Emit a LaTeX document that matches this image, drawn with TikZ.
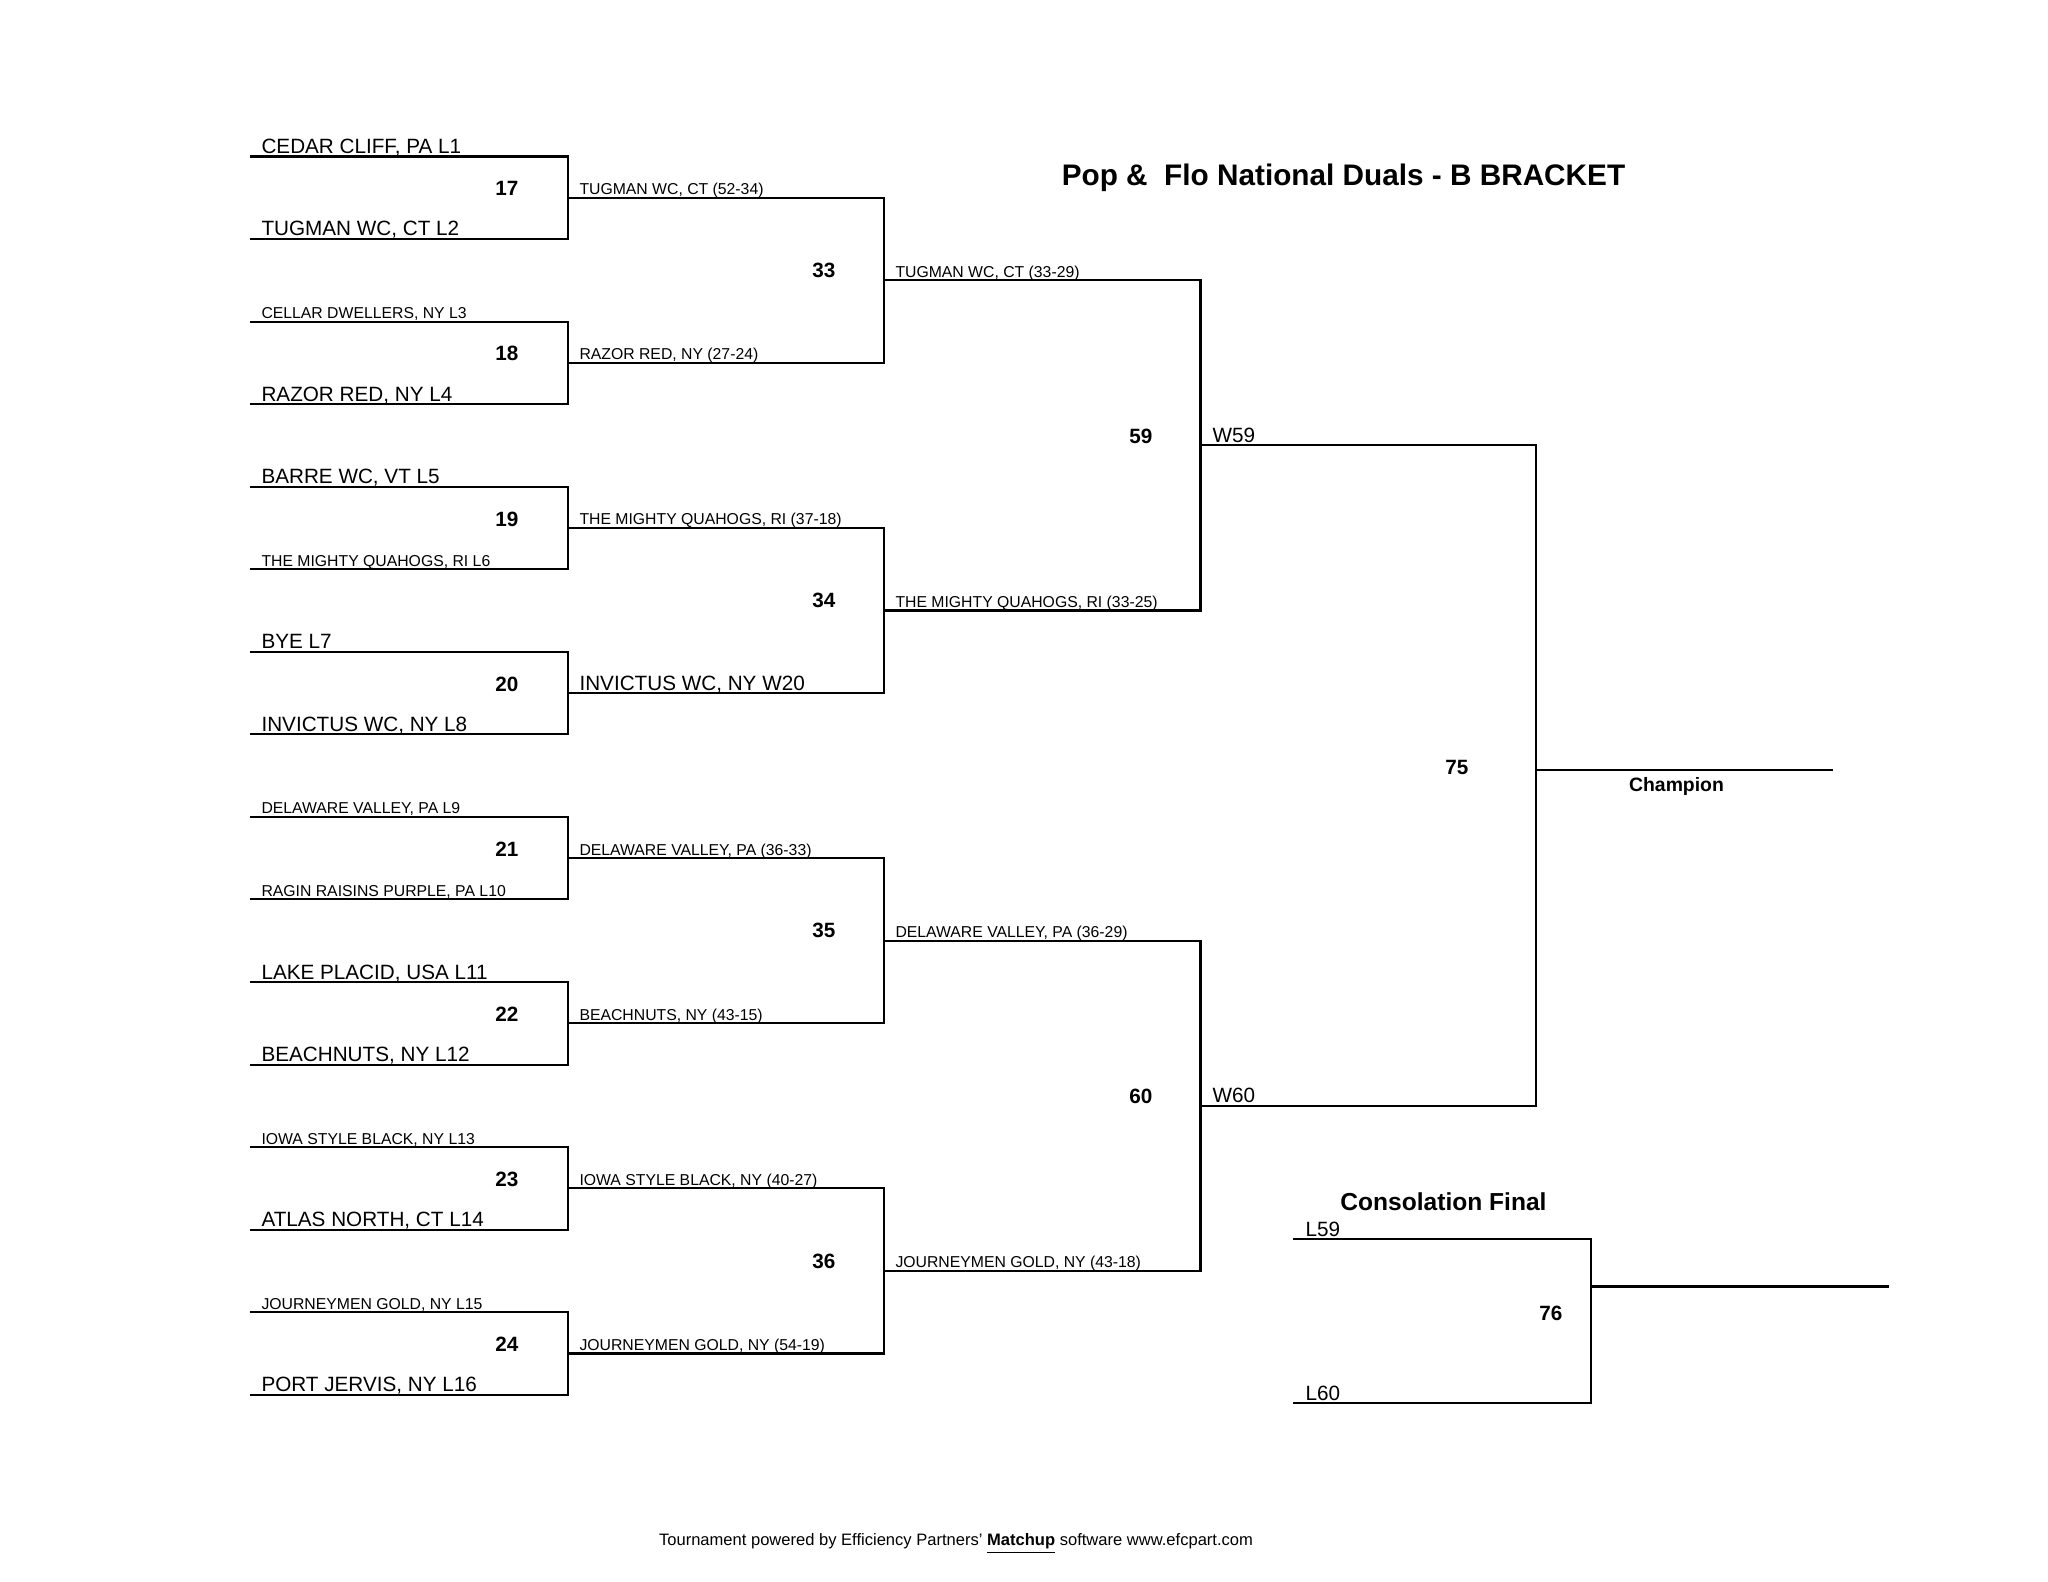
\documentclass[tikz,border=0pt]{standalone}
\usepackage{fontspec}
\setmainfont{Liberation Sans}

\begin{document}
\begin{tikzpicture}[
  x=0.38672pt,y=-0.38672pt,
  line join=miter,
  bracket/.style={draw=black,line width=.8pt},
  team/.style={font=\fontsize{8}{9.6}\selectfont,anchor=base west,inner sep=0pt},
  teamsm/.style={font=\fontsize{6.1}{7.3}\selectfont,anchor=base west,inner sep=0pt},
  bout/.style={font=\bfseries\fontsize{8}{9.6}\selectfont,anchor=base east,inner sep=0pt},
  heading/.style={font=\bfseries\fontsize{11.5}{13.8}\selectfont,anchor=base,inner sep=0pt},
  note/.style={font=\fontsize{6.4}{7.7}\selectfont,anchor=base,inner sep=0pt}
]
\useasboundingbox (0,0) rectangle (2048,1582);

% Bracket rules: x from, x to, first line, gap, last bracket index
\foreach \xa/\xb/\ytop/\gap/\last in
  {250/568/156.5/82.55/7, 568/884/197.8/165.1/3,
   884/1200.5/280.3/330.2/1, 1200.5/1536/445.4/660.4/0}{
  \foreach \k in {0,...,\last}{
    \draw[bracket] (\xa,\ytop+2*\gap*\k) -- (\xb,\ytop+2*\gap*\k)
      -- (\xb,\ytop+2*\gap*\k+\gap) -- (\xa,\ytop+2*\gap*\k+\gap);
  }
}
\draw[bracket] (1536,770) -- (1833,770);

% Consolation bracket
\draw[bracket] (1293,1239) -- (1591,1239) -- (1591,1403) -- (1293,1403);
\draw[bracket] (1591,1286.5) -- (1889,1286.5);

% Round one entries
\node[team]   (t1)  at (261,153.5)  {CEDAR CLIFF, PA L1};
\node[team]   (t2)  at (261,236)    {TUGMAN WC, CT L2};
\node[teamsm] (t3)  at (261,318.6)  {CELLAR DWELLERS, NY L3};
\node[team]   (t4)  at (261,401.2)  {RAZOR RED, NY L4};
\node[team]   (t5)  at (261,483.7)  {BARRE WC, VT L5};
\node[teamsm] (t6)  at (261,566.3)  {THE MIGHTY QUAHOGS, RI L6};
\node[team]   (t7)  at (261,648.8)  {BYE L7};
\node[team]   (t8)  at (261,731.4)  {INVICTUS WC, NY L8};
\node[teamsm] (t9)  at (261,813.9)  {DELAWARE VALLEY, PA L9};
\node[teamsm] (t10) at (261,896.5)  {RAGIN RAISINS PURPLE, PA L10};
\node[team]   (t11) at (261,979)    {LAKE PLACID, USA L11};
\node[team]   (t12) at (261,1061.6) {BEACHNUTS, NY L12};
\node[teamsm] (t13) at (261,1144.1) {IOWA STYLE BLACK, NY L13};
\node[team]   (t14) at (261,1226.7) {ATLAS NORTH, CT L14};
\node[teamsm] (t15) at (261,1309.2) {JOURNEYMEN GOLD, NY L15};
\node[team]   (t16) at (261,1391.8) {PORT JERVIS, NY L16};

% Winners of the first round
\node[teamsm] (w17) at (579,194.8)  {TUGMAN WC, CT (52-34)};
\node[teamsm] (w18) at (579,359.9)  {RAZOR RED, NY (27-24)};
\node[teamsm] (w19) at (579,525)    {THE MIGHTY QUAHOGS, RI (37-18)};
\node[team]   (w20) at (579,690.1)  {INVICTUS WC, NY W20};
\node[teamsm] (w21) at (579,855.2)  {DELAWARE VALLEY, PA (36-33)};
\node[teamsm] (w22) at (579,1020.3) {BEACHNUTS, NY (43-15)};
\node[teamsm] (w23) at (579,1185.4) {IOWA STYLE BLACK, NY (40-27)};
\node[teamsm] (w24) at (579,1350.5) {JOURNEYMEN GOLD, NY (54-19)};

\node[teamsm] (w33) at (895,277.3)  {TUGMAN WC, CT (33-29)};
\node[teamsm] (w34) at (895,607.5)  {THE MIGHTY QUAHOGS, RI (33-25)};
\node[teamsm] (w35) at (895,937.7)  {DELAWARE VALLEY, PA (36-29)};
\node[teamsm] (w36) at (895,1267.9) {JOURNEYMEN GOLD, NY (43-18)};

\node[team] (w59) at (1212,442.4)  {W59};
\node[team] (w60) at (1212,1102.8) {W60};
\node[team] (l59) at (1305,1236)   {L59};
\node[team] (l60) at (1305,1400)   {L60};

% Bout numbers
\node[bout] (b17) at (519,195.8)  {17};
\node[bout] (b18) at (519,360.9)  {18};
\node[bout] (b19) at (519,526)    {19};
\node[bout] (b20) at (519,691.1)  {20};
\node[bout] (b21) at (519,856.2)  {21};
\node[bout] (b22) at (519,1021.3) {22};
\node[bout] (b23) at (519,1186.4) {23};
\node[bout] (b24) at (519,1351.5) {24};
\node[bout] (b33) at (836,277.3)  {33};
\node[bout] (b34) at (836,607.5)  {34};
\node[bout] (b35) at (836,937.7)  {35};
\node[bout] (b36) at (836,1268.5) {36};
\node[bout] (b59) at (1153,443.4) {59};
\node[bout] (b60) at (1153,1103.8) {60};
\node[bout] (b75) at (1469,774)   {75};
\node[bout] (b76) at (1563,1320)  {76};

% Headings
\node[heading] (ttl) at (1343.5,185.5) {Pop \& \ Flo National Duals - B BRACKET};
\node[heading,font=\bfseries\fontsize{9.5}{11.4}\selectfont] (cons) at (1443.5,1210) {Consolation Final};
\node[heading,font=\bfseries\fontsize{7.5}{9}\selectfont] (champ) at (1676.5,791) {Champion};
\node[note] (foot) at (956,1545)
  {Tournament powered by Efficiency Partners' \textbf{\underline{Matchup}} software www.efcpart.com};

\end{tikzpicture}
\end{document}
